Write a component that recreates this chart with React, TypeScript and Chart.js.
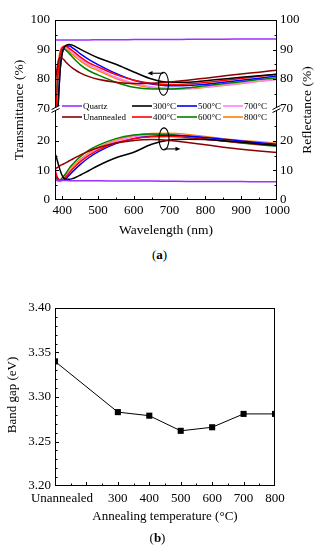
import React, { useEffect, useRef } from 'react';
import { Chart, registerables } from 'chart.js';
Chart.register(...registerables);

// ---------- (a) spectra ----------
const wavelengths = [380, 385, 390, 395, 400, 405, 410, 420, 430, 440, 450, 475, 500, 550, 600, 650, 700, 750, 800, 850, 900, 950, 1000];
const seriesLabels = ['Quartz', 'Unannealed', '300°C', '400°C', '500°C', '600°C', '700°C', '800°C'];
const seriesColors = ['#9b30ff', '#8b0000', '#000000', '#ff0000', '#0000ff', '#008000', '#ff80ff', '#ff8000'];

const transQuartz = [93.2, 93.2, 93.2, 93.2, 93.2, 93.2, 93.2, 93.2, 93.2, 93.2, 93.25, 93.25, 93.3, 93.3, 93.35, 93.4, 93.4, 93.45, 93.5, 93.5, 93.55, 93.6, 93.6];
const transUnannealed = [78, 83, 86.5, 87.3, 87.0, 86.5, 85.8, 84.6, 83.6, 82.8, 82.1, 80.8, 79.9, 78.9, 78.5, 78.6, 79.0, 79.6, 80.3, 81.0, 81.7, 82.3, 83.0];
const trans300 = [55, 62, 74, 84, 88.5, 90.5, 91.3, 91.7, 91.4, 90.8, 90.1, 88.6, 87.2, 85.0, 82.4, 80.0, 78.9, 78.9, 79.4, 80.0, 80.6, 81.1, 81.6];
const trans400 = [64, 75, 84, 89, 90.6, 91.1, 91.1, 90.4, 89.5, 88.5, 87.5, 85.5, 84.1, 81.5, 79.6, 78.5, 78.1, 78.3, 78.8, 79.5, 80.2, 80.9, 81.6];
const trans500 = [52, 60, 74, 84, 88.8, 90.6, 91.2, 91.2, 90.5, 89.6, 88.6, 86.6, 84.9, 81.9, 79.6, 78.3, 77.7, 77.8, 78.2, 78.9, 79.6, 80.3, 81.0];
const trans600 = [65, 76, 84, 88.5, 90.0, 90.2, 89.8, 88.6, 87.3, 86.0, 84.9, 82.8, 81.4, 78.9, 77.2, 76.6, 76.6, 77.0, 77.7, 78.4, 79.1, 79.8, 80.4];
const trans700 = [64, 76, 85, 89.3, 90.7, 91.0, 90.8, 89.9, 88.9, 87.9, 86.9, 84.8, 83.4, 80.6, 78.6, 77.4, 76.9, 76.9, 77.3, 77.9, 78.6, 79.2, 79.8];
const trans800 = [67, 79, 86.5, 89.8, 90.7, 90.7, 90.3, 89.3, 88.2, 87.2, 86.2, 84.2, 82.9, 80.2, 78.2, 77.0, 76.6, 76.7, 77.2, 77.8, 78.5, 79.2, 79.9];

const reflQuartz = [6.6, 6.6, 6.6, 6.6, 6.6, 6.6, 6.6, 6.55, 6.55, 6.55, 6.5, 6.5, 6.5, 6.45, 6.4, 6.4, 6.35, 6.3, 6.3, 6.25, 6.25, 6.2, 6.2];
const reflUnannealed = [10.5, 10.9, 11.3, 11.7, 12.0, 12.3, 12.6, 13.3, 13.9, 14.6, 15.2, 16.6, 17.7, 19.3, 20.2, 20.5, 20.2, 19.5, 18.7, 17.9, 17.2, 16.6, 16.1];
const refl300 = [15.8, 14.0, 11.8, 9.8, 8.3, 7.4, 7.0, 7.0, 7.3, 7.8, 8.4, 10.0, 11.6, 14.3, 16.2, 18.9, 20.3, 20.6, 20.5, 20.1, 19.6, 19.0, 18.5];
const refl400 = [10, 8, 7.0, 6.8, 6.9, 7.2, 7.8, 9.2, 10.6, 11.8, 12.9, 15.1, 16.9, 19.4, 20.8, 21.4, 21.5, 21.2, 20.6, 20.0, 19.4, 18.9, 18.5];
const refl500 = [9.5, 7.8, 7.0, 6.7, 6.7, 6.8, 7.2, 8.4, 9.7, 10.9, 12.0, 14.4, 16.3, 19.1, 20.8, 21.6, 21.9, 21.7, 21.2, 20.6, 20.0, 19.4, 18.9];
const refl600 = [8.5, 7.2, 6.8, 6.9, 7.5, 8.2, 9.0, 10.8, 12.2, 13.5, 14.6, 16.9, 18.5, 20.8, 22.0, 22.4, 22.2, 21.6, 20.8, 20.0, 19.3, 18.7, 18.2];
const refl700 = [11.5, 8.5, 7.0, 6.6, 6.8, 7.3, 8.0, 9.5, 11.0, 12.3, 13.3, 15.6, 17.4, 19.9, 21.4, 22.1, 22.2, 21.8, 21.2, 20.5, 19.9, 19.4, 19.0];
const refl800 = [8, 6.8, 6.3, 6.3, 6.8, 7.4, 8.2, 9.8, 11.3, 12.6, 13.7, 16.0, 17.8, 20.3, 21.8, 22.5, 22.6, 22.2, 21.5, 20.8, 20.2, 19.7, 19.3];

const transSeries = [transQuartz, transUnannealed, trans300, trans400, trans500, trans600, trans700, trans800];
const reflSeries = [reflQuartz, reflUnannealed, refl300, refl400, refl500, refl600, refl700, refl800];

const xTicksA = [400, 500, 600, 700, 800, 900, 1000];
const tTicks = [70, 80, 90, 100];
const rTicks = [0, 10, 20];

// ---------- (b) band gap ----------
const annealLabels = ['Unannealed', '300', '400', '500', '600', '700', '800'];
const annealTemps = [100, 300, 400, 500, 600, 700, 800];
const bandGap = [3.340, 3.283, 3.279, 3.262, 3.266, 3.281, 3.281];
const bandTicks = [3.20, 3.25, 3.30, 3.35, 3.40];

const FONT = '"Liberation Serif", "Times New Roman", serif';

function drawBreak(ctx: CanvasRenderingContext2D, x: number, y: number) {
  ctx.save();
  ctx.fillStyle = '#fff';
  ctx.beginPath();
  ctx.moveTo(x - 4, y + 1);
  ctx.lineTo(x + 4, y - 3);
  ctx.lineTo(x + 4, y);
  ctx.lineTo(x - 4, y + 4);
  ctx.closePath();
  ctx.fill();
  ctx.strokeStyle = '#000';
  ctx.lineWidth = 1;
  ctx.beginPath();
  ctx.moveTo(x - 4, y + 1);
  ctx.lineTo(x + 4, y - 3);
  ctx.moveTo(x - 4, y + 4);
  ctx.lineTo(x + 4, y);
  ctx.stroke();
  ctx.restore();
}

function arrowHead(ctx: CanvasRenderingContext2D, x: number, y: number, dir: number) {
  ctx.beginPath();
  ctx.moveTo(x, y);
  ctx.lineTo(x - dir * 5, y - 2.2);
  ctx.lineTo(x - dir * 5, y + 2.2);
  ctx.closePath();
  ctx.fill();
}

const clipPlugin = {
  id: 'clipToScale',
  beforeDatasetDraw(chart: any, args: any) {
    const ys = args.meta.yScale;
    const ca = chart.chartArea;
    chart.ctx.save();
    chart.ctx.beginPath();
    chart.ctx.rect(ca.left, ys.top, ca.right - ca.left, ys.bottom - ys.top);
    chart.ctx.clip();
  },
  afterDatasetDraw(chart: any) {
    chart.ctx.restore();
  },
};

const decorA = {
  id: 'decorA',
  afterDraw(chart: any) {
    const { ctx, chartArea: ca, scales } = chart;
    const x = scales.x, yT = scales.yT, yR = scales.yR;
    ctx.save();
    ctx.strokeStyle = '#000';
    ctx.lineWidth = 1;
    ctx.strokeRect(ca.left + 0.5, ca.top + 0.5, ca.right - ca.left - 1, ca.bottom - ca.top - 1);
    ctx.beginPath();
    for (let v = 400; v < 1000; v += 50) {
      const px = Math.round(x.getPixelForValue(v)) + 0.5;
      const len = v % 100 === 0 ? 4 : 2.5;
      ctx.moveTo(px, ca.bottom);
      ctx.lineTo(px, ca.bottom - len);
    }
    const yTicks: [any, number][] = [];
    for (let v = 75; v < 100; v += 5) yTicks.push([yT, v]);
    for (let v = 5; v < 30; v += 5) yTicks.push([yR, v]);
    for (const [s, v] of yTicks) {
      const py = Math.round(s.getPixelForValue(v)) + 0.5;
      const len = v % 10 === 0 ? 4 : 2.5;
      ctx.moveTo(ca.left, py);
      ctx.lineTo(ca.left + len, py);
      ctx.moveTo(ca.right, py);
      ctx.lineTo(ca.right - len, py);
    }
    ctx.stroke();

    // axis break marks
    const by = yT.bottom;
    drawBreak(ctx, ca.left + 0.5, by);
    drawBreak(ctx, ca.right - 0.5, by);

    // rotating arrows
    ctx.lineWidth = 1.1;
    ctx.fillStyle = '#000';
    const ex = x.getPixelForValue(683);
    const eyT = yT.getPixelForValue(78.4);
    ctx.beginPath();
    ctx.ellipse(ex, eyT, 5, 11.5, 0, 0, Math.PI * 2);
    ctx.stroke();
    ctx.beginPath();
    ctx.moveTo(ex, eyT - 10.5);
    ctx.lineTo(ex - 13, eyT - 10.5);
    ctx.stroke();
    arrowHead(ctx, ex - 16, eyT - 10.5, -1);

    const eyR = yR.getPixelForValue(20.7);
    ctx.beginPath();
    ctx.ellipse(ex + 0.5, eyR, 5, 11, 0, 0, Math.PI * 2);
    ctx.stroke();
    ctx.beginPath();
    ctx.moveTo(ex + 1, eyR + 10);
    ctx.lineTo(ex + 13, eyR + 10);
    ctx.stroke();
    arrowHead(ctx, ex + 17, eyR + 10, 1);

    // legend
    const cols = [62, 132, 177, 223];
    const rows = [106, 117];
    const grid = [[0, 2, 4, 6], [1, 3, 5, 7]];
    ctx.font = '9px ' + FONT;
    ctx.textBaseline = 'middle';
    ctx.textAlign = 'left';
    grid.forEach((row, r) => {
      row.forEach((idx, c) => {
        const lx = cols[c];
        const ly = rows[r];
        ctx.strokeStyle = seriesColors[idx];
        ctx.lineWidth = 1.6;
        ctx.beginPath();
        ctx.moveTo(lx, ly);
        ctx.lineTo(lx + 20, ly);
        ctx.stroke();
        ctx.fillStyle = '#000';
        ctx.fillText(seriesLabels[idx], lx + 21, ly + 0.5);
      });
    });

    // axis titles
    ctx.fillStyle = '#000';
    ctx.font = '13.5px ' + FONT;
    ctx.textAlign = 'center';
    ctx.textBaseline = 'middle';
    const midY = (ca.top + ca.bottom) / 2;
    ctx.save();
    ctx.translate(19, midY);
    ctx.rotate(-Math.PI / 2);
    ctx.fillText('Transmittance (%)', 0, 0);
    ctx.restore();
    ctx.save();
    ctx.translate(307, midY);
    ctx.rotate(-Math.PI / 2);
    ctx.fillText('Reflectance (%)', 0, 0);
    ctx.restore();
    ctx.fillText('Wavelength (nm)', (ca.left + ca.right) / 2, 230);
    ctx.restore();
  },
};

const decorB = {
  id: 'decorB',
  afterDraw(chart: any) {
    const { ctx, chartArea: ca, scales } = chart;
    const x = scales.x, y = scales.y;
    ctx.save();
    ctx.strokeStyle = '#000';
    ctx.lineWidth = 1;
    ctx.strokeRect(ca.left + 0.5, ca.top + 0.5, ca.right - ca.left - 1, ca.bottom - ca.top - 1);
    ctx.beginPath();
    for (let i = 1; i < 20; i++) {
      const v = 3.2 + i * 0.01;
      const py = Math.round(y.getPixelForValue(v)) + 0.5;
      const len = i % 5 === 0 ? 4 : 2.5;
      ctx.moveTo(ca.left, py);
      ctx.lineTo(ca.left + len, py);
    }
    for (let v = 150; v < 800; v += 50) {
      const px = Math.round(x.getPixelForValue(v)) + 0.5;
      const len = v % 100 === 0 ? 4 : 2.5;
      ctx.moveTo(px, ca.bottom);
      ctx.lineTo(px, ca.bottom - len);
    }
    ctx.stroke();
    ctx.fillStyle = '#000';
    ctx.font = '13px ' + FONT;
    ctx.textAlign = 'center';
    ctx.textBaseline = 'middle';
    // first category label sits slightly right of its tick, as in the original
    const p0 = x.getPixelForValue(annealTemps[0]);
    ctx.fillText(annealLabels[0], p0 + 7, 229);
    ctx.save();
    ctx.translate(13, (ca.top + ca.bottom) / 2 - 2);
    ctx.rotate(-Math.PI / 2);
    ctx.fillText('Band gap (eV)', 0, 0);
    ctx.restore();
    ctx.fillText('Annealing temperature (°C)', (ca.left + ca.right) / 2, 247);
    ctx.restore();
  },
};

function yScaleA(position: 'left' | 'right', min: number, max: number, ticks: number[], weight: number) {
  return {
    type: 'linear',
    position,
    stack: position,
    stackWeight: weight,
    min,
    max,
    offset: false,
    grid: { display: false, drawTicks: false },
    border: { display: false },
    ticks: {
      font: { family: FONT, size: 13 },
      color: '#000',
      padding: position === 'left' ? 5 : 3,
      autoSkip: false,
      callback: (v: number) => String(v),
    },
    afterBuildTicks: (s: any) => {
      s.ticks = ticks.map((v) => ({ value: v }));
    },
    afterFit: (s: any) => {
      s.width = position === 'left' ? 55 : 42;
    },
  };
}

export default function App() {
  const refA = useRef<HTMLCanvasElement>(null);
  const refB = useRef<HTMLCanvasElement>(null);

  useEffect(() => {
    document.body.style.margin = '0';
    const datasets: any[] = [];
    seriesLabels.forEach((label, i) => {
      datasets.push({
        label: label + ' T',
        data: wavelengths.map((w, k) => ({ x: w, y: transSeries[i][k] })),
        borderColor: seriesColors[i],
        borderWidth: 1.5,
        pointRadius: 0,
        cubicInterpolationMode: 'monotone',
        yAxisID: 'yT',
        xAxisID: 'x',
      });
      datasets.push({
        label: label + ' R',
        data: wavelengths.map((w, k) => ({ x: w, y: reflSeries[i][k] })),
        borderColor: seriesColors[i],
        borderWidth: 1.5,
        pointRadius: 0,
        cubicInterpolationMode: 'monotone',
        yAxisID: 'yR',
        xAxisID: 'x',
      });
    });

    const chartA = new Chart(refA.current as HTMLCanvasElement, {
      type: 'line',
      data: { datasets },
      options: {
        responsive: false,
        animation: false,
        layout: { padding: { top: 20, left: 0, right: 0, bottom: 0 } },
        plugins: { legend: { display: false }, tooltip: { enabled: false } },
        scales: {
          x: {
            type: 'linear',
            min: 380,
            max: 1000,
            grid: { display: false, drawTicks: false },
            border: { display: false },
            ticks: {
              font: { family: FONT, size: 13 },
              color: '#000',
              padding: 3,
              maxRotation: 0,
              autoSkip: false,
              callback: (v: number) => String(v),
            },
            afterBuildTicks: (s: any) => {
              s.ticks = xTicksA.map((v) => ({ value: v }));
            },
            afterFit: (s: any) => {
              s.height = 40;
            },
          },
          yR: yScaleA('left', 0, 31, rTicks, 31),
          yT: yScaleA('left', 70, 100, tTicks, 30),
          yT2: yScaleA('right', 70, 100, tTicks, 30),
          yR2: yScaleA('right', 0, 31, rTicks, 31),
        } as any,
      },
      plugins: [clipPlugin, decorA],
    } as any);

    const chartB = new Chart(refB.current as HTMLCanvasElement, {
      type: 'line',
      data: {
        datasets: [
          {
            label: 'Band gap',
            data: annealTemps.map((t, k) => ({ x: t, y: bandGap[k] })),
            borderColor: '#000',
            borderWidth: 1,
            backgroundColor: '#000',
            pointStyle: 'rect',
            pointRadius: 4.3,
            pointBorderWidth: 0,
            tension: 0,
          },
        ],
      },
      options: {
        responsive: false,
        animation: false,
        layout: { padding: { top: 38, left: 0, right: 44, bottom: 0 } },
        plugins: { legend: { display: false }, tooltip: { enabled: false } },
        scales: {
          x: {
            type: 'linear',
            min: 100,
            max: 800,
            grid: { display: false, drawTicks: false },
            border: { display: false },
            ticks: {
              font: { family: FONT, size: 13 },
              color: '#000',
              padding: 5,
              maxRotation: 0,
              autoSkip: false,
              callback: (v: number) => {
                const i = annealTemps.indexOf(v);
                return i > 0 ? annealLabels[i] : '';
              },
            },
            afterBuildTicks: (s: any) => {
              s.ticks = annealTemps.map((v) => ({ value: v }));
            },
            afterFit: (s: any) => {
              s.height = 64;
            },
          },
          y: {
            type: 'linear',
            min: 3.2,
            max: 3.4,
            grid: { display: false, drawTicks: false },
            border: { display: false },
            ticks: {
              font: { family: FONT, size: 13 },
              color: '#000',
              padding: 4,
              autoSkip: false,
              callback: (v: number) => Number(v).toFixed(2),
            },
            afterBuildTicks: (s: any) => {
              s.ticks = bandTicks.map((v) => ({ value: v }));
            },
            afterFit: (s: any) => {
              s.width = 55;
            },
          },
        } as any,
      },
      plugins: [decorB],
    } as any);

    return () => {
      chartA.destroy();
      chartB.destroy();
    };
  }, []);

  const capStyle: React.CSSProperties = {
    position: 'absolute',
    left: 0,
    width: 319,
    height: 16,
    lineHeight: '16px',
    textAlign: 'center',
    fontFamily: FONT,
    fontSize: 13,
    color: '#000',
  };

  return (
    <div style={{ position: 'absolute', left: 0, top: 0, width: 319, height: 550, background: '#fff', overflow: 'hidden' }}>
      <canvas ref={refA} width={319} height={240} style={{ position: 'absolute', left: 0, top: 0 }} />
      <div style={{ ...capStyle, top: 247 }}>(<b>a</b>)</div>
      <canvas ref={refB} width={319} height={280} style={{ position: 'absolute', left: 0, top: 270 }} />
      <div style={{ ...capStyle, top: 530, left: -2 }}>(<b>b</b>)</div>
    </div>
  );
}
